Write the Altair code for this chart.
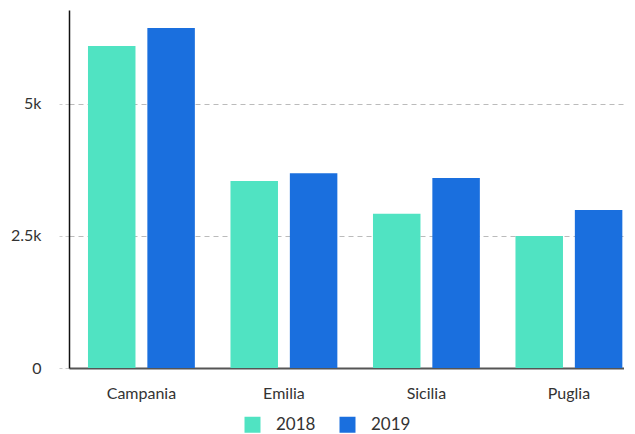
import altair as alt
import pandas as pd

regions = ["Campania", "Emilia", "Sicilia", "Puglia"]
years = ["2018", "2019"]
values_2018 = [6100, 3540, 2920, 2500]
values_2019 = [6440, 3690, 3600, 2990]
colors = ["#50e3c2", "#1a6fde"]

rows = []
for i, r in enumerate(regions):
    rows.append({"region": r, "year": years[0], "value": values_2018[i]})
    rows.append({"region": r, "year": years[1], "value": values_2019[i]})
df = pd.DataFrame(rows)

chart = alt.Chart(df).mark_bar().encode(
    x=alt.X("region:N", sort=regions,
            scale=alt.Scale(paddingInner=0.25, paddingOuter=0.0724, align=0.92),
            axis=alt.Axis(title=None, labelAngle=0, ticks=False, labelPadding=17,
                          labelFont="Lato", labelFontSize=16, labelColor="#333333",
                          domainColor="#555555", domainWidth=2)),
    xOffset=alt.XOffset("year:N", scale=alt.Scale(paddingInner=0.2, paddingOuter=0)),
    y=alt.Y("value:Q", scale=alt.Scale(domain=[0, 6780], nice=False),
            axis=alt.Axis(title=None, values=[0, 2500, 5000],
                          labelExpr="datum.value == 0 ? '0' : datum.value == 2500 ? '2.5k' : '5k'",
                          labelFont="Lato", labelFontSize=16, labelColor="#333333",
                          tickColor="#cccccc", tickDash=[4, 3], tickSize=10, labelPadding=18,
                          domainColor="#111111", domainWidth=1.5,
                          gridColor="#bbbbbb", gridDash=[5, 4], gridWidth=1)),
    color=alt.Color("year:N", scale=alt.Scale(domain=years, range=colors),
                    legend=alt.Legend(title=None, orient="none", direction="horizontal",
                                      legendX=175, legendY=406, padding=0,
                                      symbolType="square", symbolSize=256, symbolStrokeWidth=0,
                                      labelFont="Lato", labelFontSize=17, labelColor="#333333",
                                      labelOffset=15, columnPadding=23)),
).properties(
    width=555, height=358,
    padding={"left": 2, "top": 2, "right": 0, "bottom": 0},
).configure_view(stroke=None).configure_axis(grid=True).configure_axisX(grid=False)

chart.save("out.html", embed_options={"renderer": "svg", "actions": False})
